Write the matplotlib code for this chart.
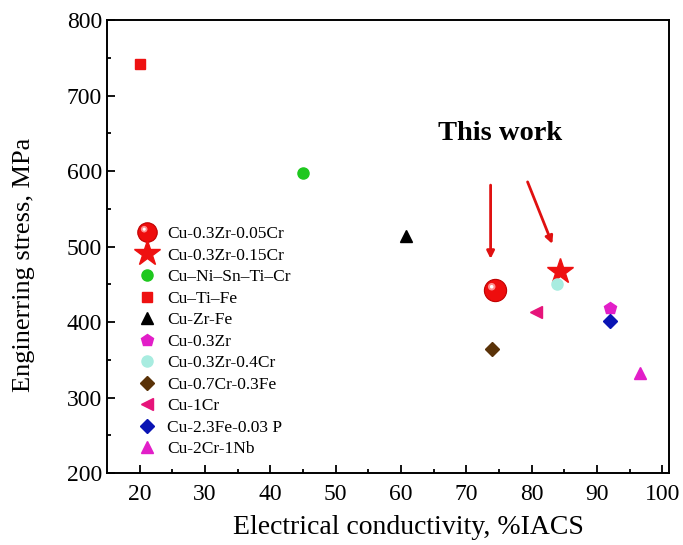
import numpy as np
import matplotlib
matplotlib.use('Agg')
from matplotlib import pyplot as plt
from matplotlib.legend_handler import HandlerTuple
from matplotlib.lines import Line2D
from matplotlib.path import Path

plt.rcParams['font.family'] = ['Liberation Serif', 'DejaVu Serif']

# データ（導電率 %IACS, 強度 MPa）
labels = ['Cu-0.3Zr-0.05Cr', 'Cu-0.3Zr-0.15Cr', 'Cu\u2013Ni\u2013Sn\u2013Ti\u2013Cr', 'Cu\u2013Ti\u2013Fe',
          'Cu-Zr-Fe', 'Cu-0.3Zr', 'Cu-0.3Zr-0.4Cr', 'Cu-0.7Cr-0.3Fe', 'Cu-1Cr',
          'Cu-2.3Fe-0.03 P', 'Cu-2Cr-1Nb']
conductivity = [74.3, 84.3, 45.0, 20.0, 60.8, 91.9, 83.9, 73.9, 80.7, 91.9, 96.5]
stress = [442, 467, 598, 742, 514, 419, 450, 364, 413, 401, 332]
markers = ['o', '*', 'o', 's', '^', 'p', 'o', 'D', '<', 'D', '^']
colors = ['#ee0d0d', '#ee1111', '#1ec81e', '#ee1111', '#000000', '#e21ec8',
          '#a8ece0', '#5a3208', '#e6147a', '#0a14b4', '#e21ec8']
sizes = [16, 19, 8, 7, 8, 9, 8, 7, 9, 7, 9]


# 球のハイライト用マーカー（左上にずらした小円）
def highlight(r):
    c = Path.circle(center=(-0.17, 0.17), radius=r)
    verts = np.vstack([[[0.5, 0.5]], c.vertices])
    codes = np.concatenate([[Path.MOVETO], c.codes])
    return Path(verts, codes)


hl_outer = highlight(0.17)
hl_inner = highlight(0.08)

fig = plt.figure(figsize=(6.83, 5.45), dpi=100)
ax = fig.add_axes([0.1567, 0.1321, 0.8228, 0.8312])

handles = []
for i in range(len(labels)):
    if i == 0:
        ax.plot(conductivity[i], stress[i], marker='o', ms=sizes[i], color=colors[i],
                mec='#c00000', mew=0.8, ls='none', zorder=5)
        ax.plot(conductivity[i], stress[i], marker=hl_outer, ms=sizes[i], color='#ff8c8c',
                mec='none', ls='none', zorder=6)
        ax.plot(conductivity[i], stress[i], marker=hl_inner, ms=sizes[i], color='#ffffff',
                mec='none', ls='none', zorder=7)
        h1 = Line2D([], [], marker='o', ms=14, color=colors[i], mec='#c00000', mew=0.8, ls='none')
        h2 = Line2D([], [], marker=hl_outer, ms=14, color='#ff8c8c', mec='none', ls='none')
        h3 = Line2D([], [], marker=hl_inner, ms=14, color='#ffffff', mec='none', ls='none')
        handles.append((h1, h2, h3))
    else:
        h, = ax.plot(conductivity[i], stress[i], marker=markers[i], ms=sizes[i], color=colors[i],
                     mec=colors[i], ls='none', zorder=4)
        handles.append(h)

# 矢印と注記
ax.annotate('', xy=(73.7, 480), xytext=(73.7, 585),
            arrowprops=dict(arrowstyle='-|>', color='#e01010', lw=2, mutation_scale=11))
ax.annotate('', xy=(83.3, 500), xytext=(79.2, 589),
            arrowprops=dict(arrowstyle='-|>', color='#e01010', lw=2, mutation_scale=11))
ax.text(75.2, 650, 'This work', fontsize=20.5, fontweight='bold', ha='center', va='center')

ax.set_xlim(15, 101)
ax.set_ylim(200, 800)
ax.set_xticks(np.arange(20, 101, 10))
ax.set_xticks(np.arange(25, 101, 10), minor=True)
ax.set_yticks(np.arange(200, 801, 100))
ax.set_yticks(np.arange(250, 801, 100), minor=True)
ax.tick_params(which='both', direction='in', top=False, right=False, labelsize=17, width=1.3)
ax.tick_params(axis='x', which='major', pad=8)
ax.tick_params(which='major', length=6)
ax.tick_params(which='minor', length=3)
for s in ax.spines.values():
    s.set_linewidth(1.4)

ax.set_xlabel('Electrical conductivity, %IACS', fontsize=20)
ax.set_ylabel('Enginerring stress, MPa', fontsize=19)
ax.xaxis.set_label_coords(0.537, -0.093)
ax.yaxis.set_label_coords(-0.128, 0.46)

ax.legend(handles, labels, loc='lower left', bbox_to_anchor=(0.025, 0.0), frameon=False,
          fontsize=12.5, labelspacing=0.31, handletextpad=0.55, handlelength=1.2,
          handler_map={tuple: HandlerTuple(ndivide=1)})

fig.savefig('out.png', dpi=100)
